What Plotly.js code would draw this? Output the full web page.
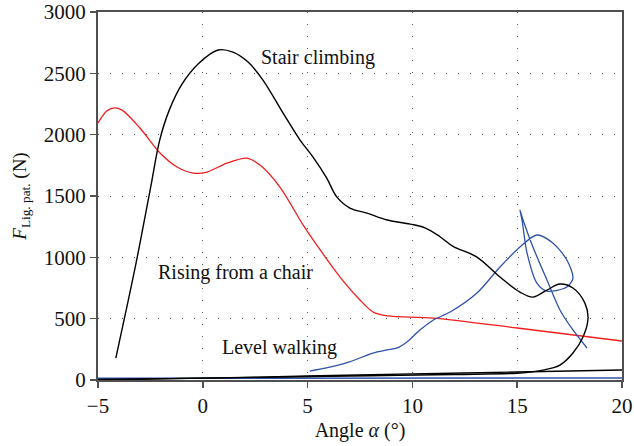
<!DOCTYPE html>
<html>
<head>
<meta charset="utf-8">
<script src="https://cdn.plot.ly/plotly-3.0.1.min.js"></script>
<style>html,body{margin:0;padding:0;background:#fff;}#chart{width:634px;height:446px;}</style>
</head>
<body>
<div id="chart"></div>
<script>
// Stair climbing (black)
const stairX = [-4.15, -3.2, -2.5, -2.05, -1.6, -1.0, -0.2, 0.73, 1.44, 2.16, 2.87, 3.83, 4.64, 5.26, 5.9, 6.4, 7.02, 7.83, 8.8, 9.9, 10.6, 11.3, 11.94, 13.08, 14.18, 15.13, 15.75, 16.42, 17.04, 17.66, 18.23, 18.38, 18.14, 17.66, 17.04, 16.23, 15.8, 15.0, 12, 8, 4, 0, -5];
const stairY = [179, 940, 1560, 1960, 2200, 2410, 2580, 2690, 2673, 2592, 2445, 2176, 1956, 1817, 1650, 1491, 1402, 1361, 1304, 1271, 1240, 1170, 1090, 1002, 839, 717, 676, 733, 782, 750, 627, 505, 350, 220, 122, 81, 68, 55, 45, 35, 25, 15, 5];
// Rising from a chair (red)
const chairX = [-5, -4.6, -4.28, -3.85, -3.0, -2.04, -1.23, -0.46, 0.2, 1.15, 2.1, 2.73, 3.68, 4.8, 5.6, 6.55, 7.5, 8.12, 8.8, 11, 15, 20];
const chairY = [2095, 2190, 2217, 2200, 2054, 1850, 1736, 1687, 1695, 1768, 1809, 1752, 1573, 1260, 1060, 839, 652, 554, 522, 505, 424, 318];
// Level walking (blue)
const walkX = [5.1, 5.9, 7.0, 8.12, 8.8, 9.27, 9.74, 10.36, 11.0, 11.8, 13.08, 14.18, 15.13, 15.94, 16.7, 17.37, 17.66, 17.37, 16.42, 15.94, 15.47, 15.23, 15.13, 15.28, 15.75, 16.42, 17.04, 17.66, 18.33];
const walkY = [73, 98, 147, 220, 245, 261, 310, 407, 489, 554, 709, 921, 1084, 1182, 1117, 978, 831, 758, 725, 790, 1035, 1304, 1386, 1304, 1084, 815, 571, 408, 261];
// Near-baseline lines
const baseBlackX = [-5, 0, 5, 10, 15, 20];
const baseBlackY = [0, 15, 32, 50, 65, 82];
const baseBlueX = [-5, 20];
const baseBlueY = [14, 16];
// Labels
const labelText = ["Stair climbing", "Rising from a chair", "Level walking"];
const labelX = [5.5, 1.54, 3.68];
const labelY = [2632, 880, 269];
const xTicks = [-5, 0, 5, 10, 15, 20];
const yTicks = [0, 500, 1000, 1500, 2000, 2500, 3000];

const FONT = "Liberation Serif, Times New Roman, serif";
const traces = [
  {x: baseBlueX, y: baseBlueY, mode: 'lines', line: {color: '#2f52a8', width: 1.5}},
  {x: baseBlackX, y: baseBlackY, mode: 'lines', line: {color: '#000', width: 1.4, shape: 'spline'}},
  {x: chairX, y: chairY, mode: 'lines', line: {color: '#f01e1e', width: 1.3, shape: 'spline', smoothing: 0.8}},
  {x: walkX, y: walkY, mode: 'lines', line: {color: '#2f52a8', width: 1.3, shape: 'spline', smoothing: 0.8}},
  {x: stairX, y: stairY, mode: 'lines', line: {color: '#000', width: 1.4, shape: 'spline', smoothing: 1.0}}
];
const annotations = labelText.map((t, i) => ({
  x: labelX[i], y: labelY[i], text: t, showarrow: false,
  font: {family: FONT, size: 20, color: '#111'}
}));
const axisCommon = {
  showline: true, linecolor: '#505050', linewidth: 2, mirror: true,
  ticks: 'outside', ticklen: 6, tickcolor: '#505050', tickwidth: 1.5,
  showgrid: true, gridcolor: '#555', gridwidth: 1, griddash: '1px,11px',
  zeroline: false, tickfont: {family: FONT, size: 21, color: '#111'}
};
const layout = {
  width: 634, height: 446,
  margin: {l: 98, r: 12, t: 12, b: 66},
  paper_bgcolor: '#fff', plot_bgcolor: '#fff',
  showlegend: false,
  font: {family: FONT, color: '#111'},
  xaxis: Object.assign({}, axisCommon, {
    range: [-5, 20], tickvals: xTicks, ticktext: xTicks.map(v => v < 0 ? '\u2212' + Math.abs(v) : String(v)),
    title: {text: 'Angle <i>α</i> (°)', font: {family: FONT, size: 20, color: '#111'}, standoff: 6}
  }),
  yaxis: Object.assign({}, axisCommon, {
    range: [0, 3000], tickvals: yTicks,
    title: {text: '<i>F</i><sub>Lig. pat.</sub> (N)', font: {family: FONT, size: 19, color: '#111'}, standoff: 12}
  }),
  annotations: annotations
};
Plotly.newPlot('chart', traces, layout, {staticPlot: true, displayModeBar: false});
</script>
</body>
</html>
